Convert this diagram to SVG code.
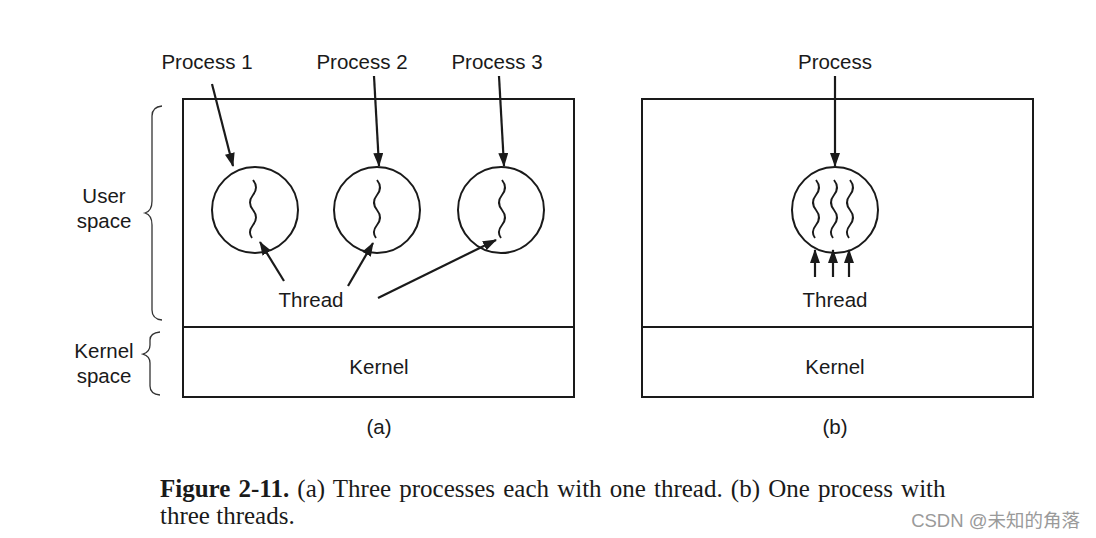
<svg xmlns="http://www.w3.org/2000/svg" width="1096" height="538" viewBox="0 0 1096 538">
<style>
.box{fill:none;stroke:#1a1a1a;stroke-width:2}
.ln{fill:none;stroke:#1a1a1a;stroke-width:2.2}
.sq{fill:none;stroke:#1a1a1a;stroke-width:1.9}
.br{fill:none;stroke:#333;stroke-width:1.3}
.t{font-family:"Liberation Sans",Arial,sans-serif;font-size:20.5px;fill:#1a1a1a;text-anchor:middle}
.cap{font-family:"Liberation Serif","Times New Roman",serif;font-size:25px;fill:#1a1a1a}
.wm{font-family:"Liberation Sans","Noto Sans CJK SC",sans-serif;font-size:18.5px;fill:#9a9a9a;text-anchor:end}
</style>
<defs>
<marker id="ah" markerUnits="userSpaceOnUse" markerWidth="14" markerHeight="10" refX="13" refY="5" orient="auto">
<path d="M0,0 L14,5 L0,10 Z" fill="#1a1a1a"/>
</marker>
<path id="sq" class="sq" d="M0,0 c4,5 4,10 0,15 s-4,10 0,15 s4,10 0,15 s-4,9 -1,13"/>
</defs>
<rect width="1096" height="538" fill="#fff"/>

<g id="panel-a">
<rect class="box" x="183" y="99" width="391" height="298"/>
<line class="box" x1="183" y1="327" x2="574" y2="327"/>
</g>
<g id="panel-b">
<rect class="box" x="642" y="99" width="391" height="298"/>
<line class="box" x1="642" y1="327" x2="1033" y2="327"/>
</g>

<g id="braces">
<path class="br" d="M162,106 Q152,107 152,116 L152,201 Q152,211 145,213 Q152,215 152,225 L152,310 Q152,319 162,320"/>
<path class="br" d="M160,332 Q150,333 150,340 L150,345 Q150,352 143,354 Q150,356 150,363 L150,386 Q150,394 160,395"/>
<text class="t" x="104" y="203">User</text>
<text class="t" x="104" y="228">space</text>
<text class="t" x="104" y="358">Kernel</text>
<text class="t" x="104" y="383">space</text>
</g>

<g id="process1">
<circle class="box" cx="255" cy="210" r="43"/>
<use href="#sq" x="253" y="180"/>
<text class="t" x="207" y="69">Process 1</text>
</g>
<g id="process2">
<circle class="box" cx="377" cy="210" r="43"/>
<use href="#sq" x="377" y="180"/>
<text class="t" x="362" y="69">Process 2</text>
</g>
<g id="process3">
<circle class="box" cx="501" cy="210" r="43"/>
<use href="#sq" x="502" y="180"/>
<text class="t" x="497" y="69">Process 3</text>
</g>
<g id="thread-a">
<text class="t" x="311" y="307">Thread</text>
</g>
<g id="kernel-a">
<text class="t" x="379" y="374">Kernel</text>
</g>
<text class="t" x="379" y="434">(a)</text>

<g id="process-b">
<circle class="box" cx="835" cy="210" r="43"/>
<use href="#sq" x="816" y="180"/>
<use href="#sq" x="834" y="180"/>
<use href="#sq" x="850" y="180"/>
<text class="t" x="835" y="69">Process</text>
</g>
<g id="thread-b">
<text class="t" x="835" y="307">Thread</text>
</g>
<g id="kernel-b">
<text class="t" x="835" y="374">Kernel</text>
</g>
<text class="t" x="835" y="434">(b)</text>

<g id="connectors">
<line class="ln" x1="212" y1="84" x2="233" y2="166" marker-end="url(#ah)"/>
<line class="ln" x1="374" y1="76" x2="379" y2="166" marker-end="url(#ah)"/>
<line class="ln" x1="499" y1="76" x2="504" y2="166" marker-end="url(#ah)"/>
<line class="ln" x1="284" y1="281" x2="260" y2="242" marker-end="url(#ah)"/>
<line class="ln" x1="348" y1="286" x2="373" y2="243" marker-end="url(#ah)"/>
<line class="ln" x1="378" y1="298" x2="496" y2="240" marker-end="url(#ah)"/>
<line class="ln" x1="835" y1="76" x2="835" y2="166" marker-end="url(#ah)"/>
<line class="ln" x1="815" y1="277" x2="815" y2="250" marker-end="url(#ah)"/>
<line class="ln" x1="833" y1="277" x2="833" y2="250" marker-end="url(#ah)"/>
<line class="ln" x1="849" y1="277" x2="849" y2="250" marker-end="url(#ah)"/>
</g>

<text class="cap" x="160" y="497" word-spacing="1.9"><tspan font-weight="bold">Figure 2-11.</tspan> (a) Three processes each with one thread. (b) One process with</text>
<text class="cap" x="160" y="524">three threads.</text>
<text class="wm" x="1080" y="527">CSDN @未知的角落</text>
</svg>
